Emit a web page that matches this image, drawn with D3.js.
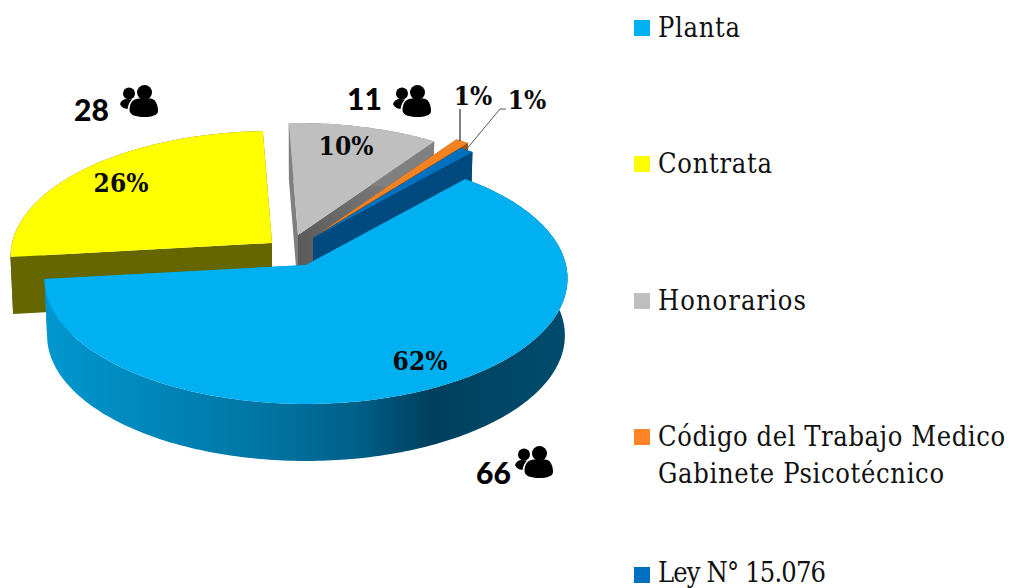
<!DOCTYPE html>
<html lang="es">
<head>
<meta charset="utf-8">
<script src="https://cdn.jsdelivr.net/npm/d3@7"></script>
<style>
html,body{margin:0;padding:0;background:#fff;overflow:hidden}
svg{display:block}
</style>
</head>
<body>
<svg id="c" width="1011" height="588"></svg>
<script>
// ---- data ----
const categories = ["Planta","Contrata","Honorarios","Código del Trabajo Medico|Gabinete Psicotécnico","Ley N° 15.076"];
const counts = [66,28,11,1,1];
const percentLabels = ["62%","26%","10%","1%","1%"];
const countLabels = ["66","28","11"];
const topColors = ["#00B0F0","#FFFF00","#BFBFBF","#F58220","#0070C0"];
const wallColors = ["url(#wallPlanta)","#666600","#808080","#9A5512","#004A80"];
const legendColors = ["#00B0F0","#FFFF00","#BFBFBF","#FF8426","#0070C0"];

// ---- layout ----
const cx = 306, cy = 265, rx = 260, ry = 124, persp = 0.1076, depth = 57;
const startDeg = 41.5;
const offsets = [[0,0],[-34,-22],[-8,-30],[14,-32],[7,-27]];
const drawOrder = [1,2,3,4,0];
const legendWidths = [[82],[114],[148],[347,286],[168]];
const svg = d3.select("#c");

const defs = svg.append("defs");
const grad = defs.append("linearGradient").attr("id","wallPlanta")
  .attr("gradientUnits","userSpaceOnUse").attr("x1",45).attr("x2",568).attr("y1",0).attr("y2",0);
[[0,"#0097CF"],[0.2,"#0087BA"],[0.45,"#00729F"],[0.6,"#005F87"],[0.7,"#00486A"],[0.74,"#00405E"],[1,"#004C6E"]]
  .forEach(s=>grad.append("stop").attr("offset",s[0]).attr("stop-color",s[1]));
const gGrad = defs.append("linearGradient").attr("id","wallGray").attr("x1",0).attr("x2",1).attr("y1",0).attr("y2",0);
[[0,"#5a5a5a"],[1,"#8c8c8c"]].forEach(s=>gGrad.append("stop").attr("offset",s[0]).attr("stop-color",s[1]));

// icon: two people
const icon = defs.append("g").attr("id","people");
icon.append("circle").attr("cx",24.5).attr("cy",7.5).attr("r",7.5);
icon.append("path").attr("d","M9.5 25 C9.5 17 14 13.5 19 13.5 L30 13.5 C35 13.5 38 19 38 26 C38 30 32 32 24 32 C16 32 9.5 30 9.5 25Z");
icon.append("circle").attr("cx",9).attr("cy",8.5).attr("r",6);
icon.append("path").attr("d","M0 19 C1 16 3 14.5 6 14 L12 14.5 C9.5 17 8 20 7.5 24 C4 23.5 1 22 0 19Z");

// ---- pie through d3 ----
const pie = d3.pie().value(d=>d).sort(null)
  .startAngle(startDeg*Math.PI/180)
  .endAngle((startDeg+360)*Math.PI/180);
const arcs = pie(counts);

function proj(i,theta,z){
  const u=Math.sin(theta), v=Math.cos(theta), den=1+persp*v;
  const sx = z ? 0.99 : 1;
  return [cx+offsets[i][0]+rx*sx*u/den, cy+offsets[i][1]-ry*v/den+(z?depth:0)];
}
const apex=(i,z)=>[cx+offsets[i][0], cy+offsets[i][1]+(z?depth:0)];
const line=d3.line();
function arcPts(i,a0,a1,z){
  const n=Math.max(4,Math.ceil((a1-a0)*60));
  return d3.range(n+1).map(k=>proj(i,a0+(a1-a0)*k/n,z));
}

const gPie=svg.append("g");
drawOrder.forEach(i=>{
  const a=arcs[i];
  const g=gPie.append("g");
  const fill=wallColors[i];
  // cut faces
  g.append("path").attr("d",line([apex(i,0),proj(i,a.startAngle,0),proj(i,a.startAngle,1),apex(i,1)])+"Z")
    .attr("fill",i===0?"#0097CF":fill);
  g.append("path").attr("d",line([apex(i,0),proj(i,a.endAngle,0),proj(i,a.endAngle,1),apex(i,1)])+"Z")
    .attr("fill",i===2?"url(#wallGray)":(i===0?"#0097CF":fill));
  // outer wall
  g.append("path").attr("d",line(arcPts(i,a.startAngle,a.endAngle,0).concat(arcPts(i,a.startAngle,a.endAngle,1).reverse()))+"Z")
    .attr("fill",fill);
  // top face
  g.append("path").attr("d",line([apex(i,0)].concat(arcPts(i,a.startAngle,a.endAngle,0)))+"Z")
    .attr("fill",topColors[i]);
});

// leader lines
svg.append("line").attr("x1",460).attr("y1",109).attr("x2",460).attr("y2",141).attr("stroke","#000").attr("stroke-width",1);
svg.append("polyline").attr("points","465,151 500,109 506,109").attr("fill","none").attr("stroke","#595959").attr("stroke-width",1);

// percent labels
const pctPos=[[420,370],[121,192],[346,155],[473,105],[527,109]];
svg.append("g").selectAll("text").data(percentLabels).join("text")
  .attr("x",(d,i)=>pctPos[i][0]).attr("y",(d,i)=>pctPos[i][1])
  .attr("text-anchor","middle")
  .attr("font-family","'DejaVu Serif Condensed','DejaVu Serif',serif")
  .attr("font-weight","700").attr("font-size",26).attr("fill","#0a0a0a")
  .text(d=>d);

// counts + icons
const cntPos=[[476,484],[74,121],[347,110]];
svg.append("g").selectAll("text").data(countLabels).join("text")
  .attr("x",(d,i)=>cntPos[i][0]).attr("y",(d,i)=>cntPos[i][1])
  .attr("font-family","Lato,'Open Sans',sans-serif").attr("font-weight","900")
  .attr("font-size",30).attr("fill","#000").text(d=>d);
[[515,446],[120,85],[393,85]].forEach(p=>{
  svg.append("use").attr("href","#people").attr("x",p[0]).attr("y",p[1]).attr("fill","#000");
});

// legend
const legY=[37,173,310,446,581.5];
const leg=svg.append("g").attr("font-family","'DejaVu Serif Condensed','DejaVu Serif',serif")
  .attr("font-size",27).attr("fill","#111");
categories.forEach((c,i)=>{
  leg.append("rect").attr("x",634).attr("y",(i===4?584:legY[i])-17).attr("width",16).attr("height",16).attr("fill",legendColors[i]);
  c.split("|").forEach((t,k)=>{
    leg.append("text").attr("x",658).attr("y",legY[i]+k*36.5)
      .attr("textLength",legendWidths[i][k]).attr("lengthAdjust","spacing").text(t);
  });
});
</script>
</body>
</html>
